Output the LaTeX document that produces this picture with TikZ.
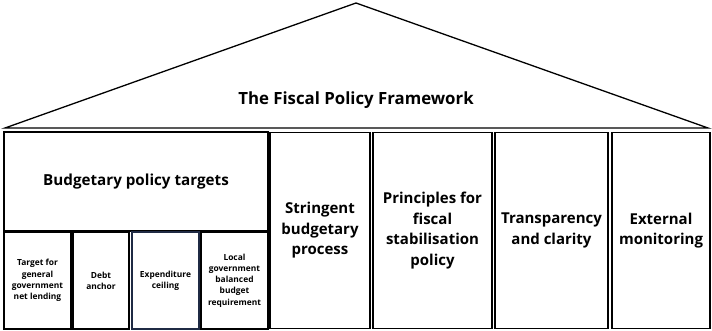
\documentclass[tikz,border=0pt]{standalone}
\usepackage{fontspec}
\setmainfont{Open Sans}
\usepackage{tikz}
\usetikzlibrary{positioning}
\definecolor{clrnavy}{RGB}{31,42,68}

\begin{document}
\begin{tikzpicture}[
    x=1pt, y=-1pt,
    font=\bfseries,
    box/.style={draw=black, line width=1.3pt, fill=white,
                align=center, inner sep=2pt},
    pillar/.style={box, minimum height=196pt, font=\bfseries\fontsize{15}{20.5}\selectfont},
    subbox/.style={box, minimum height=97pt, font=\bfseries\fontsize{8.4}{11.2}\selectfont},
    roof/.style={draw=black, line width=1.3pt, line join=miter},
  ]
    \useasboundingbox (0,0) rectangle (712,331);

    % roof
    \coordinate (rl) at (5,128);
    \coordinate (rt) at (356,3);
    \coordinate (rr) at (708,128);
    \draw[roof] (rl) -- (rt) -- (rr) -- cycle;
    \node (title) at (356,100) {\fontsize{16.8}{20}\selectfont The Fiscal Policy Framework};

    % budgetary policy targets
    \node[box, minimum width=264pt, minimum height=99pt] (bpt) at (136,181.5)
        {\fontsize{15.2}{18}\selectfont Budgetary policy targets};
    \node[subbox, minimum width=67pt] (lend) at (37.5,280.5) {Target for\\general\\government\\net lending};
    \node[subbox, minimum width=56pt] (debt) at (101,280.5) {Debt\\anchor};
    \node[subbox, minimum width=67pt, draw=clrnavy] (ceil) at (165.5,280.5) {Expenditure\\ceiling};
    \node[subbox, minimum width=67pt] (local) at (234.5,280.5) {Local\\government\\balanced\\budget\\requirement};

    % pillars
    \node[pillar, minimum width=100pt] (proc) at (320,230.5) {Stringent\\budgetary\\process};
    \node[pillar, minimum width=119pt] (stab) at (432.5,230.5) {Principles for\\fiscal\\stabilisation\\policy};
    \node[pillar, minimum width=113pt] (trans) at (551.5,230.5) {Transparency\\and clarity};
    \node[pillar, minimum width=98pt] (ext) at (661,230.5) {External\\monitoring};
\end{tikzpicture}
\end{document}
